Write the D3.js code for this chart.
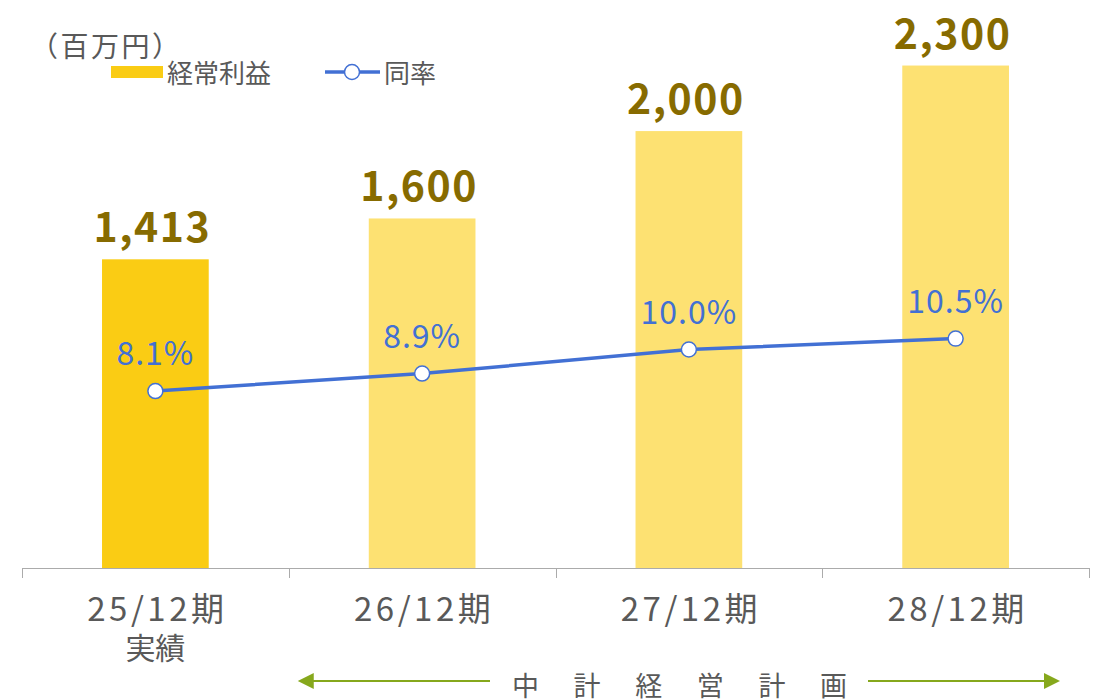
<!DOCTYPE html>
<html><head><meta charset="utf-8">
<script src="https://cdn.jsdelivr.net/npm/d3@7"></script>
<style>
html,body{margin:0;padding:0;background:#fff;}
svg{display:block;}
text{font-family:"Noto Sans CJK JP","Noto Sans",sans-serif;}
</style></head>
<body>
<svg id="chart" width="1097" height="699"></svg>
<script>
const categories = ["25/12期", "26/12期", "27/12期", "28/12期"];
const subLabels = ["実績", "", "", ""];
const profit = [1413, 1600, 2000, 2300];
const rate = [8.1, 8.9, 10.0, 10.5];
const profitLabels = ["1,413", "1,600", "2,000", "2,300"];
const rateLabels = ["8.1%", "8.9%", "10.0%", "10.5%"];
const unitLabel = "（百万円）";
const legendBar = "経常利益";
const legendLine = "同率";
const planLabel = "中計経営計画";

const svg = d3.select("#chart");
const x = d3.scaleBand().domain(categories).range([22, 1089]).paddingInner(0.6).paddingOuter(0.3);
const y = d3.scaleLinear().domain([0, 2600]).range([568, 0]);
const y2 = d3.scaleLinear().domain([0, 26]).range([568, 0]);
const cx = c => x(c) + x.bandwidth() / 2;
const gray = "#595959";

// bars
svg.append("g").selectAll("rect").data(categories).join("rect")
  .attr("x", d => x(d)).attr("width", x.bandwidth())
  .attr("y", (d, i) => y(profit[i])).attr("height", (d, i) => y(0) - y(profit[i]))
  .attr("fill", (d, i) => i === 0 ? "#FACC14" : "#FDE172");

// bar value labels
svg.append("g").selectAll("text").data(categories).join("text")
  .attr("x", d => cx(d) - 3).attr("y", (d, i) => y(profit[i]) - 17)
  .attr("text-anchor", "middle").attr("font-size", 41).attr("font-weight", 700)
  .attr("letter-spacing", 1.5)
  .attr("fill", "#876B00").text((d, i) => profitLabels[i]);

// axis
const step = x.step();
const bounds = categories.map(c => cx(c) - step / 2).concat([cx(categories[categories.length - 1]) + step / 2]);
const ax = svg.append("g");
ax.append("line").attr("x1", bounds[0]).attr("x2", bounds[bounds.length - 1])
  .attr("y1", y(0) + 0.5).attr("y2", y(0) + 0.5).attr("stroke", "#ababab").attr("stroke-width", 1);
ax.selectAll("line.t").data(bounds).join("line").attr("class", "t")
  .attr("x1", d => Math.round(d) + 0.5).attr("x2", d => Math.round(d) + 0.5)
  .attr("y1", y(0)).attr("y2", y(0) + 10).attr("stroke", "#ababab");
ax.selectAll("text.c").data(categories).join("text").attr("class", "c")
  .attr("x", d => cx(d) + 2).attr("y", 621).attr("text-anchor", "middle")
  .attr("font-size", 33).attr("letter-spacing", 3.5).attr("fill", gray).text(d => d);
ax.selectAll("text.s").data(categories).join("text").attr("class", "s")
  .attr("x", d => cx(d)).attr("y", 659).attr("text-anchor", "middle")
  .attr("font-size", 30).attr("fill", gray).text((d, i) => subLabels[i]);

// line
const line = d3.line().x(d => cx(d)).y((d, i) => y2(rate[i]));
svg.append("path").datum(categories).attr("d", line)
  .attr("fill", "none").attr("stroke", "#4270D4").attr("stroke-width", 3.5);
svg.append("g").selectAll("circle").data(categories).join("circle")
  .attr("cx", d => cx(d)).attr("cy", (d, i) => y2(rate[i])).attr("r", 7.5)
  .attr("fill", "#fff").attr("stroke", "#4270D4").attr("stroke-width", 1.5);
svg.append("g").selectAll("text").data(categories).join("text")
  .attr("x", d => cx(d)).attr("y", (d, i) => y2(rate[i]) - 26)
  .attr("text-anchor", "middle").attr("font-size", 32).attr("letter-spacing", 1)
  .attr("fill", "#4270D4").text((d, i) => rateLabels[i]);

// unit label
svg.append("text").attr("x", 30).attr("y", 57).attr("font-size", 28).attr("letter-spacing", 2.5)
  .attr("fill", gray).text(unitLabel);

// legend
svg.append("rect").attr("x", 111).attr("y", 66).attr("width", 52).attr("height", 12).attr("fill", "#FACC14");
svg.append("text").attr("x", 167).attr("y", 83).attr("font-size", 26).attr("fill", gray).text(legendBar);
svg.append("line").attr("x1", 325).attr("x2", 380).attr("y1", 72).attr("y2", 72)
  .attr("stroke", "#4270D4").attr("stroke-width", 3.5);
svg.append("circle").attr("cx", 352).attr("cy", 72).attr("r", 7.5)
  .attr("fill", "#fff").attr("stroke", "#4270D4").attr("stroke-width", 1.5);
svg.append("text").attr("x", 384).attr("y", 83).attr("font-size", 26).attr("fill", gray).text(legendLine);

// plan annotation
const green = "#86A81C";
const ay = 681;
const leftTip = bounds[1] + 9, rightTip = bounds[4] - 29;
svg.append("line").attr("x1", leftTip + 14).attr("x2", 490).attr("y1", ay).attr("y2", ay)
  .attr("stroke", green).attr("stroke-width", 2);
svg.append("path").attr("d", `M${leftTip},${ay} L${leftTip + 16},${ay - 8} L${leftTip + 16},${ay + 8} Z`).attr("fill", green);
svg.append("line").attr("x1", 868).attr("x2", rightTip - 14).attr("y1", ay).attr("y2", ay)
  .attr("stroke", green).attr("stroke-width", 2);
svg.append("path").attr("d", `M${rightTip},${ay} L${rightTip - 16},${ay - 8} L${rightTip - 16},${ay + 8} Z`).attr("fill", green);
svg.append("text").attr("x", 512).attr("y", 696).attr("font-size", 27).attr("letter-spacing", 34.6)
  .attr("fill", gray).text(planLabel);
</script>
</body></html>
